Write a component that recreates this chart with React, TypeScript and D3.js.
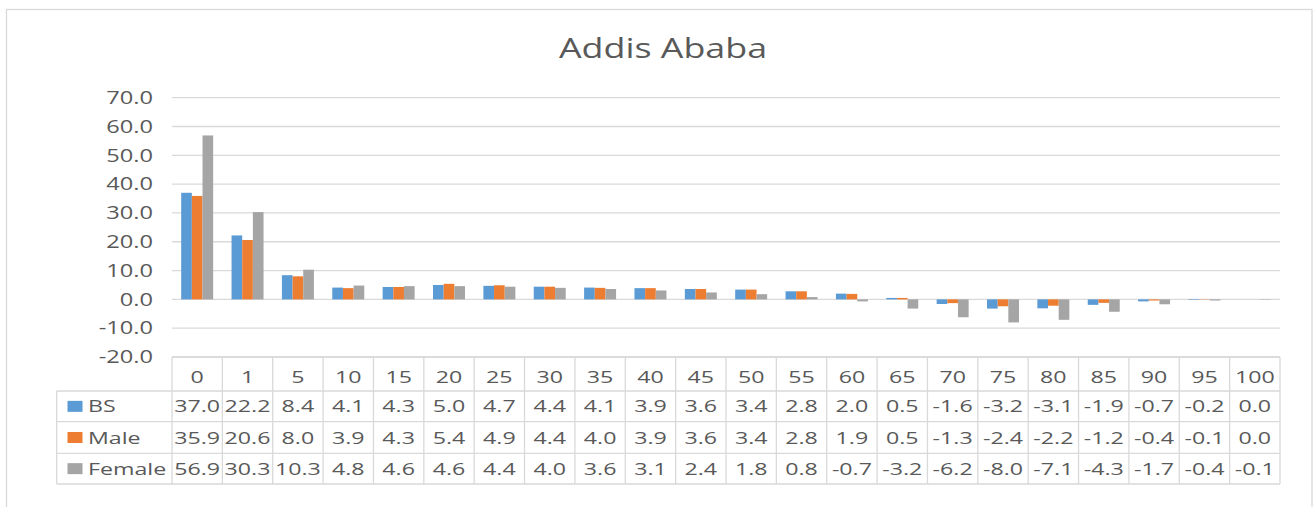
import React from "react";
import * as d3 from "d3";

const categories = ["0","1","5","10","15","20","25","30","35","40","45","50","55","60","65","70","75","80","85","90","95","100"];
const seriesNames = ["BS", "Male", "Female"];
const bsValues = [37.0,22.2,8.4,4.1,4.3,5.0,4.7,4.4,4.1,3.9,3.6,3.4,2.8,2.0,0.5,-1.6,-3.2,-3.1,-1.9,-0.7,-0.2,0.0];
const maleValues = [35.9,20.6,8.0,3.9,4.3,5.4,4.9,4.4,4.0,3.9,3.6,3.4,2.8,1.9,0.5,-1.3,-2.4,-2.2,-1.2,-0.4,-0.1,0.0];
const femaleValues = [56.9,30.3,10.3,4.8,4.6,4.6,4.4,4.0,3.6,3.1,2.4,1.8,0.8,-0.7,-3.2,-6.2,-8.0,-7.1,-4.3,-1.7,-0.4,-0.1];
const colors = ["#5B9BD5", "#ED7D31", "#A5A5A5"];
const yTicks = [-20,-10,0,10,20,30,40,50,60,70];
const title = "Addis Ababa";

const W = 1314, H = 507;
const FONT = "'Open Sans', 'DejaVu Sans', sans-serif";
const TXT = "#595959";
const GRID = "#d9d9d9";

function SText({ x, y, sx, size, anchor, children, fill = TXT }: any) {
  return (
    <text transform={`translate(${x},${y}) scale(${sx},1)`} fontSize={size} fontFamily={FONT}
      textAnchor={anchor} fill={fill}>{children}</text>
  );
}

export default function App() {
  const left = 172, right = 1280;
  const y = d3.scaleLinear().domain([-20, 70]).range([357, 97.7]);
  const x = d3.scaleBand<string>().domain(categories).range([left, right]).paddingInner(0.365).paddingOuter(0.1825);
  const xc = d3.scaleBand<string>().domain(categories).range([left, right]).padding(0);
  const xs = d3.scaleBand<string>().domain(seriesNames).range([0, x.bandwidth()]);
  const values = [bsValues, maleValues, femaleValues];
  const f1 = d3.format(".1f");
  const fmt = (v: number) => f1(v).replace("\u2212", "-");

  const tableTop = y(-20);
  const rowEdges = [tableTop, 391, 421.7, 453.3, 484];
  const legendLeft = 56.7;

  return (
    <svg width={W} height={H} style={{ position: "absolute", left: 0, top: 0, background: "#fff" }}>
      <rect x={0} y={0} width={W} height={H} fill="#fff" />
      <rect x={6.5} y={9.5} width={1305.5} height={520} fill="#fff" stroke="#d9d9d9" strokeWidth={1.3} />
      <SText x={663} y={58} sx={1.28} size={28} anchor="middle">{title}</SText>

      {yTicks.map((t) => (
        <g key={t}>
          <line x1={left} x2={right} y1={y(t)} y2={y(t)} stroke={GRID} strokeWidth={1.3} />
          <SText x={153} y={y(t) + 6.3} sx={1.35} size={17.5} anchor="end">{fmt(t)}</SText>
        </g>
      ))}

      {values.map((vals, si) => (
        <g key={si} fill={colors[si]}>
          {vals.map((v, i) => {
            const bx = (x(categories[i]) as number) + (xs(seriesNames[si]) as number);
            const y0 = y(0), y1 = y(v);
            return <rect key={i} x={bx} y={Math.min(y0, y1)} width={xs.bandwidth()} height={Math.abs(y1 - y0)} />;
          })}
        </g>
      ))}

      {/* data table */}
      <g stroke={GRID} strokeWidth={1.3} fill="none">
        <line x1={left} x2={right} y1={rowEdges[0]} y2={rowEdges[0]} />
        {rowEdges.slice(1).map((ry, i) => (
          <line key={i} x1={legendLeft} x2={right} y1={ry} y2={ry} />
        ))}
        <line x1={legendLeft} x2={legendLeft} y1={rowEdges[1]} y2={rowEdges[4]} />
        {categories.map((c) => (
          <line key={c} x1={xc(c)} x2={xc(c)} y1={rowEdges[0]} y2={rowEdges[4]} />
        ))}
        <line x1={right} x2={right} y1={rowEdges[0]} y2={rowEdges[4]} />
      </g>
      {categories.map((c) => (
        <SText key={c} x={(xc(c) as number) + xc.bandwidth() / 2} y={383} sx={1.38} size={16.8} anchor="middle">{c}</SText>
      ))}
      {values.map((vals, si) => {
        const base = (rowEdges[si + 1] + rowEdges[si + 2]) / 2 + 6;
        return (
          <g key={si}>
            <rect x={67.5} y={base - 11.5} width={15} height={11} fill={colors[si]} />
            <SText x={88} y={base} sx={1.38} size={16.8} anchor="start">{seriesNames[si]}</SText>
            {vals.map((v, i) => (
              <SText key={i} x={(xc(categories[i]) as number) + xc.bandwidth() / 2} y={base} sx={1.38} size={16.8} anchor="middle">{fmt(v)}</SText>
            ))}
          </g>
        );
      })}
    </svg>
  );
}
